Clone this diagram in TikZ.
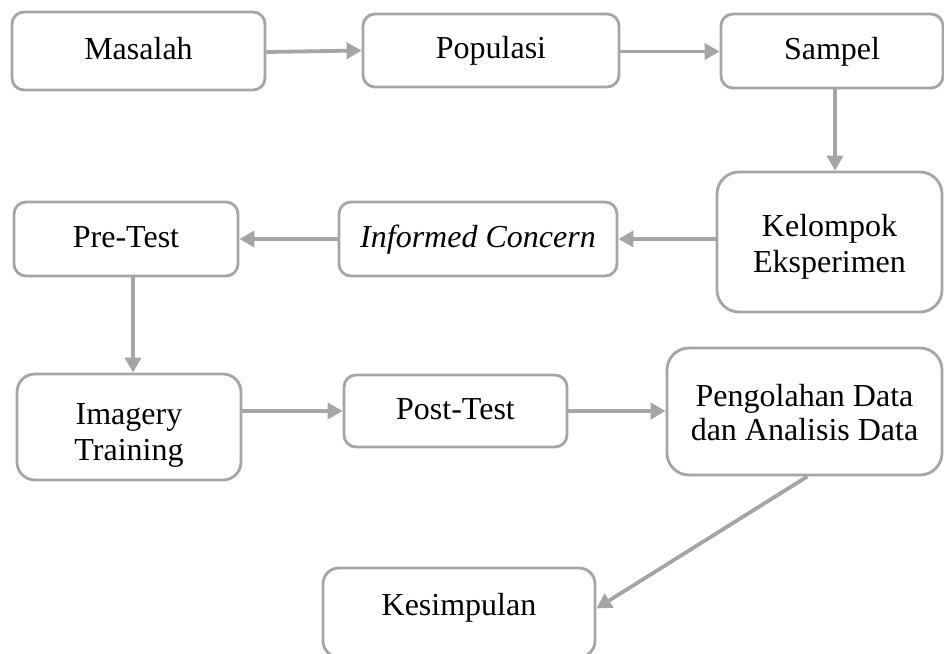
\documentclass[tikz,border=0pt]{standalone}
\usepackage{fontspec}
\setmainfont{Liberation Serif}
\usetikzlibrary{arrows.meta}
\definecolor{linegray}{HTML}{A5A5A5}
\tikzset{
  box/.style={draw=linegray, line width=2.8pt, rounded corners=12pt, align=center,
    inner sep=0pt, font=\fontsize{32}{36}\selectfont, text=black},
  oneline/.style={text height=22pt, text depth=6pt},
  arr/.style={draw=linegray, line width=3.8pt, -{Triangle[length=15pt,width=16pt]}, color=linegray}
}
\begin{document}
\begin{tikzpicture}[x=1pt,y=-1pt]
\useasboundingbox (0,0) rectangle (944,653);
\node[box, oneline, minimum width=253pt, minimum height=78pt] (mas) at (138.5,51) {Masalah};
\node[box, oneline, minimum width=256pt, minimum height=73pt] (pop) at (491,50.5) {Populasi};
\node[box, oneline, minimum width=222pt, minimum height=74pt] (sam) at (832,51) {Sampel};
\node[box, rounded corners=22pt, text height=66pt, text depth=6pt, minimum width=225pt, minimum height=140pt] (kel) at (829.5,242) {Kelompok\\Eksperimen};
\node[box, oneline, minimum width=278pt, minimum height=74pt] (inf) at (478,239) {\itshape Informed Concern};
\node[box, oneline, minimum width=224pt, minimum height=74pt] (pre) at (126,239) {Pre-Test};
\node[box, rounded corners=18pt, text height=72pt, text depth=6pt, minimum width=224pt, minimum height=106pt] (ima) at (129,427) {Imagery\\Training};
\node[box, oneline, minimum width=223pt, minimum height=72pt] (post) at (455.5,411) {Post-Test};
\node[box, rounded corners=22pt, font=\fontsize{32}{34}\selectfont, text height=63pt, text depth=6pt, minimum width=275pt, minimum height=127pt] (pen) at (804.5,411.5) {Pengolahan Data\\dan Analisis Data};
\node[box, rounded corners=16pt, text height=22pt, text depth=17pt, minimum width=272pt, minimum height=89pt] (kes) at (459,612.5) {Kesimpulan};

\draw[arr] ([yshift=-1pt]mas.east) -- (pop.west);
\draw[arr] ([yshift=-1pt]pop.east) -- ([yshift=-1pt]pop.east -| sam.west);
\draw[arr] ([xshift=3pt]sam.south) -- ([xshift=3pt]sam.south |- kel.north);
\draw[arr] (kel.west |- inf.east) -- (inf.east);
\draw[arr] (inf.west) -- (pre.east);
\draw[arr] ([xshift=7pt]pre.south) -- ([xshift=7pt]pre.south |- ima.north);
\draw[arr] (ima.east |- post.west) -- (post.west);
\draw[arr] (post.east) -- (pen.west |- post.east);
\draw[arr] ([xshift=3pt]pen.south) -- ([yshift=4pt]kes.east);
\end{tikzpicture}
\end{document}
